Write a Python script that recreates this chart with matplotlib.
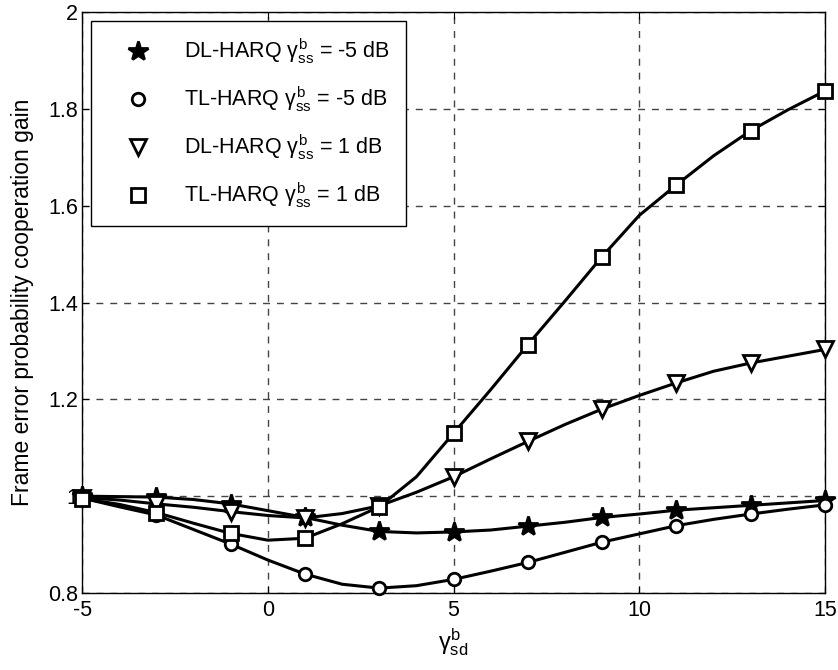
import numpy as np
import matplotlib
matplotlib.use("Agg")
import matplotlib.pyplot as plt
from matplotlib.lines import Line2D

plt.rcParams['font.family'] = ['Liberation Sans', 'DejaVu Sans']
plt.rcParams['mathtext.fontset'] = 'custom'
plt.rcParams['mathtext.rm'] = 'Liberation Sans'
plt.rcParams['mathtext.it'] = 'Liberation Sans'
plt.rcParams['axes.unicode_minus'] = False

# x axis: gamma_sd^b in dB
x = list(range(-5, 16))

dl_m5 = [1.000, 0.999, 0.998, 0.993, 0.984, 0.970, 0.956, 0.940, 0.927, 0.924, 0.926,
         0.930, 0.938, 0.946, 0.956, 0.963, 0.971, 0.976, 0.981, 0.986, 0.991]
tl_m5 = [0.996, 0.978, 0.961, 0.931, 0.901, 0.868, 0.839, 0.818, 0.810, 0.815, 0.828,
         0.845, 0.863, 0.884, 0.905, 0.922, 0.939, 0.952, 0.963, 0.973, 0.982]
dl_1 = [0.997, 0.992, 0.984, 0.977, 0.968, 0.960, 0.955, 0.964, 0.980, 1.008, 1.040,
        1.077, 1.113, 1.148, 1.180, 1.208, 1.234, 1.258, 1.275, 1.289, 1.303]
tl_1 = [0.995, 0.983, 0.966, 0.944, 0.923, 0.909, 0.913, 0.943, 0.978, 1.040, 1.130,
        1.220, 1.313, 1.403, 1.495, 1.580, 1.643, 1.703, 1.755, 1.798, 1.837]

labels = [r'DL-HARQ $\gamma^{b}_{ss}$ = -5 dB',
          r'TL-HARQ $\gamma^{b}_{ss}$ = -5 dB',
          r'DL-HARQ $\gamma^{b}_{ss}$ = 1 dB',
          r'TL-HARQ $\gamma^{b}_{ss}$ = 1 dB']

series = [dl_m5, tl_m5, dl_1, tl_1]
markers = ['*', 'o', 'v', 's']
msizes = [15, 9, 11, 10]
faces = ['k', 'white', 'white', 'white']

fig = plt.figure(figsize=(8.38, 6.70), dpi=100)
ax = fig.add_axes([0.098, 0.115, 0.8865, 0.867])

handles = []
for y, m, ms, fc, lab in zip(series, markers, msizes, faces, labels):
    ax.plot(x, y, color='k', lw=2.2, marker=m, ms=ms, mfc=fc, mec='k', mew=2,
            markevery=2, clip_on=False, zorder=3)
    handles.append(Line2D([], [], ls='none', marker=m, ms=ms, mfc=fc, mec='k',
                          mew=2, label=lab))

ax.set_xlim(-5, 15)
ax.set_ylim(0.8, 2.0)
ax.set_xticks([-5, 0, 5, 10, 15])
ax.set_yticks([0.8, 1.0, 1.2, 1.4, 1.6, 1.8, 2.0])
ax.set_yticklabels(['0.8', '1', '1.2', '1.4', '1.6', '1.8', '2'])
ax.tick_params(direction='in', top=True, right=True, labelsize=15.5, length=5)
ax.tick_params(axis='x', pad=5)
ax.tick_params(axis='y', pad=3)
ax.grid(True, color='#444444', ls=(0, (5, 5)), lw=1)
for s in ax.spines.values():
    s.set_linewidth(1)

ax.set_xlabel(r'$\gamma^{b}_{sd}$', fontsize=17, labelpad=4)
ax.set_ylabel('Frame error probability cooperation gain', fontsize=16.5, labelpad=10)

leg = ax.legend(handles=handles, loc='upper left', fontsize=15.5, frameon=True,
                fancybox=False, edgecolor='k', framealpha=1,
                borderpad=0.75, labelspacing=0.85, handlelength=2.9,
                handletextpad=0.7, borderaxespad=0.4)
leg.get_frame().set_linewidth(1)

fig.savefig('out.png', dpi=100)
